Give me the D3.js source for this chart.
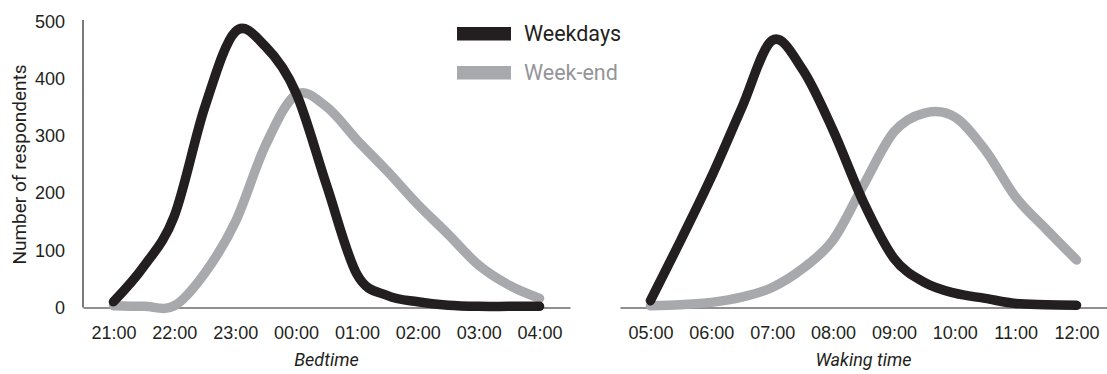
<!DOCTYPE html>
<html>
<head>
<meta charset="utf-8">
<script src="https://cdn.jsdelivr.net/npm/d3@7"></script>
<style>
  body { margin: 0; background: #fff; }
  svg { display: block; font-family: Roboto, "Noto Sans", sans-serif; }
  .axis text { font-size: 18px; fill: #231f20; }
  .axis path { stroke: #231f20; stroke-width: 1.2; }
  .title { font-size: 18px; fill: #231f20; }
</style>
</head>
<body>
<svg id="chart" width="1107" height="374"></svg>
<script>
// half-hour sample times
const bedTimes = ["21:00","21:30","22:00","22:30","23:00","23:30","00:00","00:30",
                  "01:00","01:30","02:00","02:30","03:00","03:30","04:00"];
const bedWeekdays = [10, 72, 160, 350, 482, 456, 375, 214, 58, 21, 10, 4, 2, 2, 2];
const bedWeekend  = [3, 2, 3, 60, 149, 284, 372, 351, 293, 238, 180, 128, 74, 39, 16];

const wakeTimes = ["05:00","05:30","06:00","06:30","07:00","07:30","08:00","08:30",
                   "09:00","09:30","10:00","10:30","11:00","11:30","12:00"];
const wakeWeekdays = [12, 118, 228, 349, 467, 416, 310, 184, 86, 44, 25, 16, 7, 5, 4];
const wakeWeekend  = [3, 5, 9, 18, 35, 68, 118, 214, 307, 340, 333, 275, 193, 137, 83];

const bedTicks  = ["21:00","22:00","23:00","00:00","01:00","02:00","03:00","04:00"];
const wakeTicks = ["05:00","06:00","07:00","08:00","09:00","10:00","11:00","12:00"];
const yTicks = [0, 100, 200, 300, 400, 500];

const seriesNames = ["Weekdays", "Week-end"];
const colors = {"Weekdays": "#231f20", "Week-end": "#a7a9ac"};
const textColors = {"Weekdays": "#231f20", "Week-end": "#939598"};

const svg = d3.select("#chart");

let y = d3.scaleLinear().domain([0, 500]).range([307.5, 21.5]);

// hours after the first sample, wrapping past midnight
function offset(t, start) {
    let h = +t.slice(0, 2) + (+t.slice(3, 5)) / 60;
    let s = +start.slice(0, 2);
    if (h < s) h += 24;
    return h - s;
}

function drawPanel(x0, x1, times, ticks, weekdays, weekend, label, showY) {
    let x = d3.scaleLinear().domain([-0.5, ticks.length - 0.5]).range([x0, x1]);
    let start = times[0];

    let xAxis = d3.axisBottom(x)
        .tickValues(ticks.map(t => offset(t, start)))
        .tickFormat((d, i) => ticks[i])
        .tickSize(0)
        .tickSizeOuter(0)
        .tickPadding(19);
    svg.append("g")
        .attr("class", "axis")
        .attr("transform", "translate(0," + y(0) + ")")
        .call(xAxis);

    if (showY) {
        let yAxis = d3.axisLeft(y)
            .tickValues(yTicks)
            .tickSize(0)
            .tickSizeOuter(0)
            .tickPadding(18);
        let g = svg.append("g")
            .attr("class", "axis")
            .attr("transform", "translate(" + x0 + ",0)")
            .call(yAxis);
        g.select(".domain").attr("d", "M0," + y(0) + "V20");
    }

    let line = d3.line()
        .x(d => x(offset(d.t, start)))
        .y(d => y(d.v))
        .curve(d3.curveCardinal.tension(0));

    let data = [
        {name: "Week-end", values: times.map((t, i) => ({t: t, v: weekend[i]}))},
        {name: "Weekdays", values: times.map((t, i) => ({t: t, v: weekdays[i]}))}
    ];
    svg.append("g").selectAll("path")
        .data(data)
        .enter().append("path")
        .attr("d", d => line(d.values))
        .attr("fill", "none")
        .attr("stroke", d => colors[d.name])
        .attr("stroke-width", 9.5)
        .attr("stroke-linecap", "round")
        .attr("stroke-linejoin", "round");

    svg.append("text")
        .attr("class", "title")
        .attr("x", (x0 + x1) / 2)
        .attr("y", 366)
        .attr("text-anchor", "middle")
        .style("font-style", "italic")
        .text(label);
}

drawPanel(83, 570, bedTimes, bedTicks, bedWeekdays, bedWeekend, "Bedtime", true);
drawPanel(620, 1107, wakeTimes, wakeTicks, wakeWeekdays, wakeWeekend, "Waking time", false);

svg.append("text")
    .attr("class", "title")
    .attr("transform", "translate(26," + (y(0) + y(500)) / 2 + ") rotate(-90)")
    .attr("text-anchor", "middle")
    .style("font-size", "19px")
    .text("Number of respondents");

// legend
let legend = svg.append("g").selectAll("g")
    .data(seriesNames)
    .enter().append("g")
    .attr("transform", (d, i) => "translate(457," + (27 + i * 39) + ")");
legend.append("rect")
    .attr("width", 54)
    .attr("height", 13.5)
    .attr("fill", d => colors[d]);
legend.append("text")
    .attr("x", 67)
    .attr("y", 14)
    .style("font-size", "21.5px")
    .attr("fill", d => textColors[d])
    .text(d => d);
</script>
</body>
</html>
